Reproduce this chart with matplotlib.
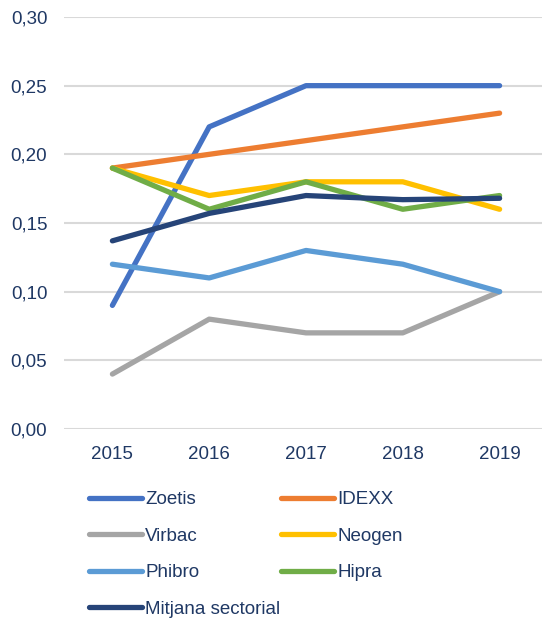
import matplotlib.pyplot as plt
from matplotlib.ticker import FuncFormatter

years = ['2015', '2016', '2017', '2018', '2019']

zoetis  = [0.09, 0.22, 0.25, 0.25, 0.25]
idexx   = [0.19, 0.20, 0.21, 0.22, 0.23]
virbac  = [0.04, 0.08, 0.07, 0.07, 0.10]
neogen  = [0.19, 0.17, 0.18, 0.18, 0.16]
phibro  = [0.12, 0.11, 0.13, 0.12, 0.10]
hipra   = [0.19, 0.16, 0.18, 0.16, 0.17]
mitjana = [0.137, 0.157, 0.170, 0.167, 0.168]

plt.rcParams['font.family'] = ['Liberation Sans', 'DejaVu Sans']
text_col = '#1F3864'

series = [
	('Zoetis', zoetis, '#4472C4'),
	('IDEXX', idexx, '#ED7D31'),
	('Virbac', virbac, '#A5A5A5'),
	('Neogen', neogen, '#FFC000'),
	('Phibro', phibro, '#5B9BD5'),
	('Hipra', hipra, '#70AD47'),
	('Mitjana sectorial', mitjana, '#264478'),
]

fig = plt.figure(figsize=(5.42, 6.18), dpi=100)
ax = fig.add_axes([64/542, 1 - 429/618, 484/542, 412/618])

lines = {}
for name, vals, col in series:
	ln, = ax.plot(range(len(years)), vals, color=col, lw=3.8,
		solid_capstyle='round', solid_joinstyle='round', label=name)
	lines[name] = ln

ax.set_xlim(-0.5, 4.5)
ax.set_ylim(0, 0.30)
ax.set_yticks([0, 0.05, 0.10, 0.15, 0.20, 0.25, 0.30])
ax.yaxis.set_major_formatter(FuncFormatter(lambda v, p: f'{v:.2f}'.replace('.', ',')))
ax.set_xticks(range(len(years)))
ax.set_xticklabels(years)
ax.grid(axis='y', color='#D9D9D9', lw=1.5)
ax.set_axisbelow(True)
for s in ax.spines.values():
	s.set_visible(False)
ax.tick_params(length=0, labelsize=13.5, labelcolor=text_col)
ax.tick_params(axis='y', pad=12)
ax.tick_params(axis='x', pad=12)

# legend is filled column-wise, so reorder to get the row layout
order = ['Zoetis', 'Virbac', 'Phibro', 'Mitjana sectorial', 'IDEXX', 'Neogen', 'Hipra']
leg = fig.legend([lines[n] for n in order], order, ncol=2, loc='upper left',
	bbox_to_anchor=(89/542, 1 - 491/618), frameon=False, fontsize=13.5,
	handlelength=2.8, handletextpad=0.2, columnspacing=0.05,
	labelspacing=1.04, borderpad=0, borderaxespad=0)
for t in leg.get_texts():
	t.set_color(text_col)

fig.savefig('out.png', dpi=100)
